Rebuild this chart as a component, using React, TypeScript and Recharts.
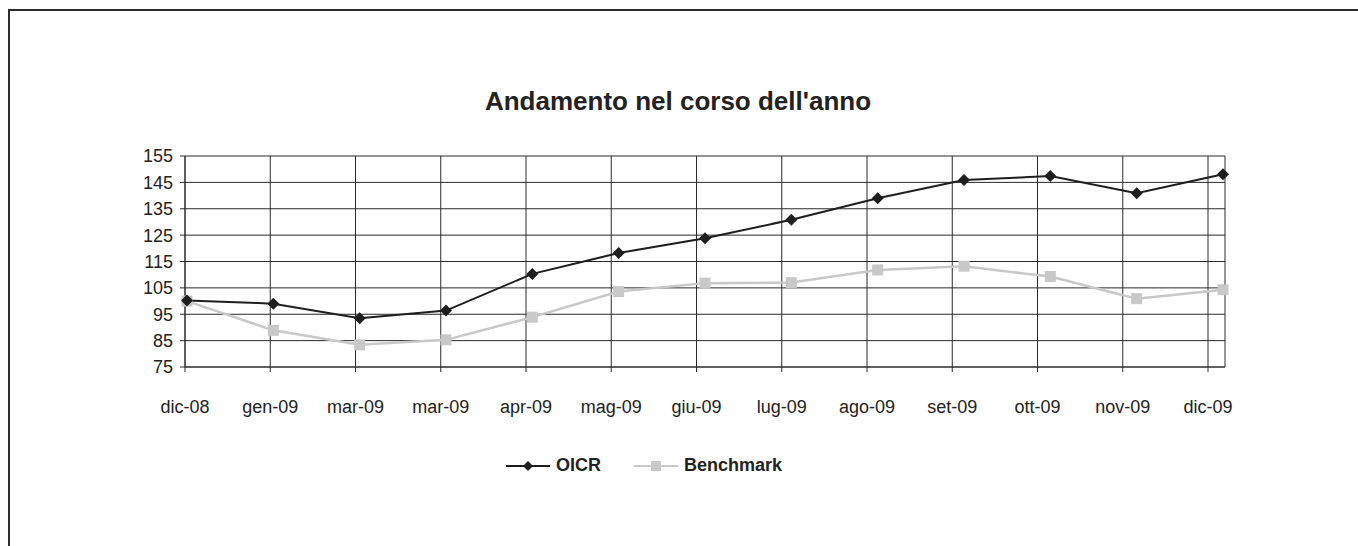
import React from 'react';
import { LineChart, Line, XAxis, YAxis, CartesianGrid, Legend } from 'recharts';

const categories = ['dic-08', 'gen-09', 'mar-09', 'mar-09', 'apr-09', 'mag-09', 'giu-09', 'lug-09', 'ago-09', 'set-09', 'ott-09', 'nov-09', 'dic-09'];
const oicrValues = [100.2, 99.0, 93.5, 96.4, 110.3, 118.2, 123.8, 130.8, 139.0, 145.9, 147.4, 140.9, 148.1];
const benchmarkValues = [100.0, 88.9, 83.4, 85.3, 93.9, 103.6, 106.8, 107.0, 111.8, 113.2, 109.3, 100.9, 104.3];
const yTicks = [75, 85, 95, 105, 115, 125, 135, 145, 155];

const FONT = '"Liberation Sans", Arial, sans-serif';
const INK = '#222222';
const OICR_COLOR = '#1e1e1e';
const BENCH_COLOR = '#c8c8c8';

const data = categories.map((label, i) => ({
  label,
  oicr: oicrValues[i],
  benchmark: benchmarkValues[i],
}));

const Diamond = ({ cx, cy, r = 6 }: { cx: number; cy: number; r?: number }) => (
  <path d={`M${cx},${cy - r} L${cx + r},${cy} L${cx},${cy + r} L${cx - r},${cy} Z`} fill={OICR_COLOR} />
);

const Square = ({ cx, cy, s = 11 }: { cx: number; cy: number; s?: number }) => (
  <rect x={cx - s / 2} y={cy - s / 2} width={s} height={s} fill={BENCH_COLOR} />
);

const LegendContent = () => (
  <div style={{ display: 'flex', alignItems: 'center', fontFamily: FONT, fontWeight: 'bold', fontSize: 18, color: INK }}>
    <svg width={44} height={20}>
      <line x1={0} y1={10} x2={44} y2={10} stroke={OICR_COLOR} strokeWidth={2} />
      <Diamond cx={22} cy={10} r={5} />
    </svg>
    <span style={{ marginLeft: 6 }}>OICR</span>
    <svg width={44} height={20} style={{ marginLeft: 33 }}>
      <line x1={0} y1={10} x2={44} y2={10} stroke={BENCH_COLOR} strokeWidth={2} />
      <Square cx={22} cy={10} s={10} />
    </svg>
    <span style={{ marginLeft: 6 }}>Benchmark</span>
  </div>
);

export default function App() {
  return (
    <div
      style={{
        position: 'fixed',
        left: 8,
        top: 9,
        width: 1400,
        height: 600,
        border: '2px solid #2b2b2b',
        background: '#fff',
        fontFamily: FONT,
      }}
    >
      <div
        style={{
          position: 'absolute',
          left: 0,
          top: 75,
          width: 1336,
          textAlign: 'center',
          fontSize: 26,
          lineHeight: '30px',
          fontWeight: 'bold',
          color: INK,
        }}
      >
        Andamento nel corso dell'anno
      </div>
      <LineChart width={1340} height={530} data={data} margin={{ top: 145, right: 125, left: 95, bottom: 144 }}>
        <CartesianGrid xAxisId="lab" stroke="#2a2a2a" strokeWidth={1} />
        <XAxis
          xAxisId="lab"
          dataKey="label"
          padding={{ left: 0, right: 17 }}
          height={30}
          interval={0}
          tickSize={5}
          tickMargin={28}
          stroke="#2a2a2a"
          tick={{ fill: INK, fontSize: 18, fontFamily: FONT }}
        />
        <XAxis xAxisId="pts" dataKey="label" padding={{ left: 2, right: 2 }} hide />
        <YAxis
          domain={[75, 155]}
          ticks={yTicks}
          interval={0}
          width={80}
          tickSize={5}
          tickMargin={7}
          stroke="#2a2a2a"
          tick={{ fill: INK, fontSize: 18, fontFamily: FONT }}
        />
        <Legend layout="horizontal" verticalAlign="middle" wrapperStyle={{ left: 496, top: 444, width: 'auto' }} content={<LegendContent />} />
        <Line
          xAxisId="pts"
          type="linear"
          dataKey="benchmark"
          name="Benchmark"
          stroke={BENCH_COLOR}
          strokeWidth={2.5}
          isAnimationActive={false}
          dot={(p: any) => <Square key={`b${p.index}`} cx={p.cx} cy={p.cy} />}
        />
        <Line
          xAxisId="pts"
          type="linear"
          dataKey="oicr"
          name="OICR"
          stroke={OICR_COLOR}
          strokeWidth={2}
          isAnimationActive={false}
          dot={(p: any) => <Diamond key={`o${p.index}`} cx={p.cx} cy={p.cy} />}
        />
      </LineChart>
    </div>
  );
}
